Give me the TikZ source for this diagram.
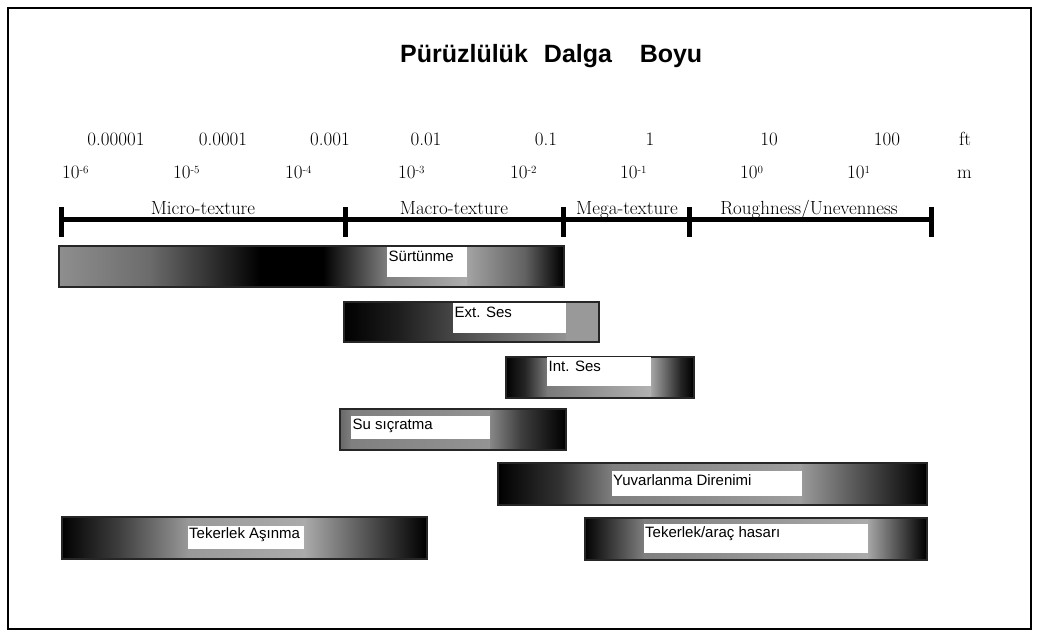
\documentclass[tikz,border=0pt]{standalone}
\usepackage{fontspec}
\newfontfamily\titlefont{Liberation Sans}
\newfontfamily\boxfont{Liberation Sans}
\usetikzlibrary{calc}
\newcommand\expo[2]{#1\raisebox{5pt}{\fontsize{11}{11}\selectfont #2}}
\tikzset{
  x=1pt, y=-1pt,
  titletxt/.style={font=\titlefont\bfseries\fontsize{25}{28}\selectfont, inner sep=0, anchor=base},
  numtxt/.style={font=\fontsize{19}{22}\selectfont, inner sep=0, anchor=base},
  exptxt/.style={font=\fontsize{19}{22}\selectfont, inner sep=0, anchor=base west},
  cattxt/.style={font=\fontsize{19}{22}\selectfont, inner sep=0, anchor=base},
  scaleline/.style={line width=4.5pt},
  tickline/.style={line width=5pt},
  barframe/.style={draw=black!85, line width=1.8pt, inner sep=0, anchor=north west},
  wbox/.style={fill=white, inner sep=0, anchor=north west},
  lbl/.style={font=\boxfont\fontsize{15}{16}\selectfont, inner sep=0, anchor=base west},
  frame/.style={draw=black, line width=2.5pt}
}
\begin{document}
\begin{tikzpicture}
\useasboundingbox (0,0) rectangle (1039,635);
\draw[frame] (8,8) rectangle (1031,629);

% title
\node[titletxt] (t1) at (464,62) {Pürüzlülük};
\node[titletxt] (t2) at (578,62) {Dalga};
\node[titletxt] (t3) at (671,62) {Boyu};

% ft row
\node[numtxt] (f1) at (116,145) {0.00001};
\node[numtxt] (f2) at (223,145) {0.0001};
\node[numtxt] (f3) at (330,145) {0.001};
\node[numtxt] (f4) at (426,145) {0.01};
\node[numtxt] (f5) at (546,145) {0.1};
\node[numtxt] (f6) at (650,145) {1};
\node[numtxt] (f7) at (769,145) {10};
\node[numtxt] (f8) at (887,145) {100};
\node[numtxt] (f9) at (965,145) {ft};

% m row
\node[exptxt] (m1) at (62,178) {\expo{10}{-6}};
\node[exptxt] (m2) at (173,178) {\expo{10}{-5}};
\node[exptxt] (m3) at (285,178) {\expo{10}{-4}};
\node[exptxt] (m4) at (398,178) {\expo{10}{-3}};
\node[exptxt] (m5) at (510,178) {\expo{10}{-2}};
\node[exptxt] (m6) at (620,178) {\expo{10}{-1}};
\node[exptxt] (m7) at (740,178) {\expo{10}{0}};
\node[exptxt] (m8) at (847,178) {\expo{10}{1}};
\node[exptxt] (m9) at (957,178) {m};

% scale bar
\coordinate (k1) at (61,219.5);
\coordinate (k2) at (345,219.5);
\coordinate (k3) at (563.5,219.5);
\coordinate (k4) at (689,219.5);
\coordinate (k5) at (931,219.5);
\draw[scaleline] (k1) -- (k5);
\foreach \k in {k1,k2,k3,k4,k5}{
  \draw[tickline] ($(\k)+(0,-12.5)$) -- ($(\k)+(0,17.5)$);
}
\node[cattxt] (c1) at (203,214) {Micro-texture};
\node[cattxt] (c2) at (454,214) {Macro-texture};
\node[cattxt] (c3) at (627,214) {Mega-texture};
\node[cattxt] (c4) at (809,214) {Roughness/Unevenness};

% Bar A : Sürtünme
\shade[left color=black!44,right color=black!58] (58,245) rectangle (150.5,286);
\shade[left color=black!58,right color=black] (150,245) rectangle (260.5,286);
\fill[black] (260,245) rectangle (323.5,286);
\shade[left color=black,right color=black!50] (323,245) rectangle (387.5,286);
\shade[left color=black!50,right color=black!32] (387,245) rectangle (467.5,286);
\shade[left color=black!36,right color=black!62] (467,245) rectangle (525.5,286);
\shade[left color=black!62,right color=black] (525,245) rectangle (563,286);
\node[barframe, minimum width=505, minimum height=41] (barA) at (58,245) {};
\node[wbox, minimum width=80, minimum height=30] (wA) at (387,247) {};
\node[lbl] (tA) at ($(wA.north west)+(1.5,14)$) {Sürtünme};

% Bar B : Ext. Ses
\shade[left color=black,right color=black!88] (343,301) rectangle (400.5,341);
\shade[left color=black!88,right color=black!72] (400,301) rectangle (453.5,341);
\shade[left color=black!72,right color=black!42] (453,301) rectangle (566.5,341);
\fill[black!40] (566,301) rectangle (598,341);
\node[barframe, minimum width=255, minimum height=40] (barB) at (343,301) {};
\node[wbox, minimum width=113, minimum height=30] (wB) at (453,303) {};
\node[lbl] (tB) at ($(wB.north west)+(1.5,14)$) {Ext. Ses};

% Bar C : Int. Ses
\shade[left color=black,right color=black!85] (505,356) rectangle (525.5,397);
\shade[left color=black!85,right color=black!52] (525,356) rectangle (547.5,397);
\shade[left color=black!52,right color=black!30] (547,356) rectangle (651.5,397);
\shade[left color=black!35,right color=black!85] (651,356) rectangle (680.5,397);
\shade[left color=black!85,right color=black] (680,356) rectangle (693,397);
\node[barframe, minimum width=188, minimum height=41] (barC) at (505,356) {};
\node[wbox, minimum width=104, minimum height=29] (wC) at (547,357) {};
\node[lbl] (tC) at ($(wC.north west)+(1.5,14)$) {Int. Ses};

% Bar D : Su sıçratma
\shade[left color=black!60,right color=black!50] (339,408) rectangle (351.5,449);
\shade[left color=black!50,right color=black!42] (351,408) rectangle (490.5,449);
\shade[left color=black!47,right color=black!75] (490,408) rectangle (520.5,449);
\shade[left color=black!75,right color=black] (520,408) rectangle (565,449);
\node[barframe, minimum width=226, minimum height=41] (barD) at (339,408) {};
\node[wbox, minimum width=139, minimum height=23] (wD) at (351,416) {};
\node[lbl] (tD) at ($(wD.north west)+(1.5,13.5)$) {Su sıçratma};

% Bar E : Yuvarlanma Direnimi
\shade[left color=black,right color=black!80] (497,462) rectangle (560.5,504);
\shade[left color=black!80,right color=black!50] (560,462) rectangle (612.5,504);
\shade[left color=black!50,right color=black!38] (612,462) rectangle (802.5,504);
\shade[left color=black!40,right color=black] (802,462) rectangle (926,504);
\node[barframe, minimum width=429, minimum height=42] (barE) at (497,462) {};
\node[wbox, minimum width=190, minimum height=25] (wE) at (612,471) {};
\node[lbl] (tE) at ($(wE.north west)+(1,14)$) {Yuvarlanma Direnimi};

% Bar F : Tekerlek/araç hasarı
\shade[left color=black,right color=black!50] (584,517) rectangle (644.5,559);
\shade[left color=black!50,right color=black!33] (644,517) rectangle (868.5,559);
\shade[left color=black!35,right color=black] (868,517) rectangle (926,559);
\node[barframe, minimum width=342, minimum height=42] (barF) at (584,517) {};
\node[wbox, minimum width=224, minimum height=29] (wF) at (644,524) {};
\node[lbl] (tF) at ($(wF.north west)+(1,13)$) {Tekerlek/araç hasarı};

% Bar G : Tekerlek Aşınma
\shade[left color=black,right color=black!75] (61,516) rectangle (120.5,558);
\shade[left color=black!75,right color=black!40] (120,516) rectangle (188.5,558);
\shade[left color=black!40,right color=black!33] (188,516) rectangle (304.5,558);
\shade[left color=black!33,right color=black] (304,516) rectangle (426,558);
\node[barframe, minimum width=365, minimum height=42] (barG) at (61,516) {};
\node[wbox, minimum width=116, minimum height=23] (wG) at (188,526) {};
\node[lbl] (tG) at ($(wG.north west)+(1,12.5)$) {Tekerlek Aşınma};
\end{tikzpicture}
\end{document}
